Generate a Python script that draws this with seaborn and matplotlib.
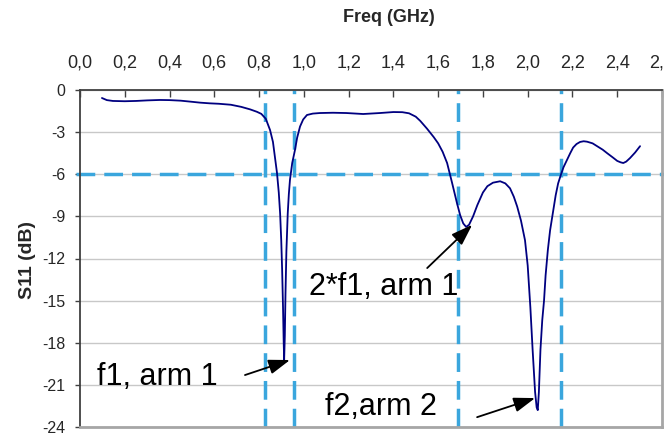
import matplotlib
matplotlib.use("Agg")
import matplotlib.pyplot as plt
import seaborn as sns

# ---- data ----
freq = [0.098, 0.12, 0.147, 0.2, 0.25, 0.3, 0.357, 0.4, 0.45, 0.5,
        0.536, 0.58, 0.62, 0.674, 0.72, 0.76, 0.79, 0.81, 0.83, 0.849,
        0.862, 0.871, 0.88, 0.888, 0.894, 0.899, 0.903, 0.907, 0.91, 0.912,
        0.915, 0.918, 0.922, 0.928, 0.933, 0.938, 0.948, 0.96, 0.97, 0.983,
        0.997, 1.014, 1.04, 1.072, 1.13, 1.19, 1.265, 1.34, 1.4, 1.44,
        1.47, 1.5, 1.52, 1.55, 1.58, 1.6, 1.62, 1.64, 1.662, 1.684,
        1.698, 1.712, 1.725, 1.738, 1.756, 1.775, 1.80, 1.82, 1.845, 1.877,
        1.9, 1.921, 1.938, 1.953, 1.97, 1.988, 2.0, 2.012, 2.022, 2.033,
        2.04, 2.045, 2.05, 2.057, 2.065, 2.073, 2.08, 2.09, 2.1, 2.115,
        2.125, 2.136, 2.149, 2.16, 2.175, 2.19, 2.203, 2.218, 2.234, 2.25,
        2.265, 2.29, 2.31, 2.335, 2.355, 2.38, 2.4, 2.415, 2.427, 2.44,
        2.457, 2.48, 2.502]
s11 = [-0.57, -0.72, -0.78, -0.80, -0.78, -0.74, -0.71, -0.72, -0.76, -0.84,
       -0.90, -0.95, -0.98, -1.05, -1.2, -1.38, -1.55, -1.7, -2.05, -2.85,
       -3.7, -4.8, -5.9, -7.3, -8.8, -10.7, -12.8, -15.5, -18.0, -19.2,
       -17.5, -14.5, -11.5, -8.8, -7.4, -6.4, -5.2, -4.3, -3.4, -2.6,
       -2.1, -1.78, -1.68, -1.64, -1.62, -1.64, -1.71, -1.64, -1.57, -1.58,
       -1.66, -1.9, -2.2, -2.75, -3.35, -3.8, -4.4, -5.2, -6.6, -8.05,
       -8.9, -9.5, -9.75, -9.6, -9.0, -8.2, -7.3, -6.85, -6.6, -6.5,
       -6.65, -7.0, -7.6, -8.3, -9.3, -10.7, -12.5, -15.5, -18.5, -21.5,
       -22.6, -22.8, -21.5, -18.5, -16.4, -15.0, -13.2, -11.4, -10.0, -8.5,
       -7.5, -6.65, -6.0, -5.5, -5.0, -4.5, -4.1, -3.85, -3.7, -3.65,
       -3.68, -3.8, -4.0, -4.25, -4.5, -4.8, -5.05, -5.15, -5.2, -5.1,
       -4.85, -4.45, -4.0]

xtick_vals = [0.0, 0.2, 0.4, 0.6, 0.8, 1.0, 1.2, 1.4, 1.6, 1.8, 2.0, 2.2, 2.4, 2.6]
xtick_labels = ["0,0", "0,2", "0,4", "0,6", "0,8", "1,0", "1,2", "1,4", "1,6",
                "1,8", "2,0", "2,2", "2,4", "2,6"]
ytick_vals = [0, -3, -6, -9, -12, -15, -18, -21, -24]
ytick_labels = ["0", "-3", "-6", "-9", "-12", "-15", "-18", "-21", "-24"]

vlines_x = [0.827, 0.956, 1.69, 2.15]
hline_y = -6

annotations = [
    # text, text position (x, y), arrow tail, arrow head
    ("f1, arm 1", (0.076, -21.0), (0.737, -20.3), (0.938, -19.23)),
    ("2*f1, arm 1", (1.023, -14.6), (1.551, -12.68), (1.752, -9.6)),
    ("f2,arm 2", (1.095, -23.15), (1.774, -23.3), (2.033, -21.94)),
]

# ---- style ----
sns.set_theme(style="white")
plt.rcParams["font.family"] = ["Liberation Sans", "DejaVu Sans"]
plt.rcParams["axes.unicode_minus"] = False

fig = plt.figure(figsize=(6.64, 4.33), dpi=100)
ax = fig.add_axes([80 / 664, 1 - 427 / 433, (662 - 80) / 664, (427 - 90) / 433])

dash_color = "#3aa6dd"
dash_lw = 2.5
dash_style = (0, (5.4, 2.6))

# grid
ax.set_axisbelow(True)
ax.yaxis.grid(True, color="#c8c8c8", lw=1.0)
ax.xaxis.grid(False)

# dashed reference lines
for xv in vlines_x:
    ax.plot([xv, xv], [-24, 0], color=dash_color, lw=dash_lw,
            linestyle=dash_style, zorder=2)
ax.plot([-0.02, 2.607], [hline_y, hline_y], color=dash_color, lw=dash_lw,
        linestyle=dash_style, zorder=2, clip_on=False)

# curve
sns.lineplot(x=freq, y=s11, ax=ax, color="#000080", lw=1.3, zorder=3,
             sort=False, estimator=None)

ax.set_xlim(0, 2.6)
ax.set_ylim(-24, 0)

ax.xaxis.tick_top()
ax.set_xticks(xtick_vals)
ax.set_xticklabels(xtick_labels, fontsize=13)
ax.set_yticks(ytick_vals)
ax.set_yticklabels(ytick_labels, fontsize=11.5)
ax.tick_params(axis="x", direction="in", length=5, width=1, color="#404040",
               pad=13, top=True, bottom=False, labeltop=True, labelbottom=False)
ax.tick_params(axis="y", direction="out", length=3.5, width=1, color="#404040",
               pad=7, left=True)

ax.xaxis.set_label_position("top")
ax.set_xlabel("Freq (GHz)", fontsize=13, fontweight="bold", va="center")
ax.xaxis.set_label_coords((389 - 80) / 582, (427 - 18) / 337)
ax.set_ylabel("S11 (dB)", fontsize=14, fontweight="bold", va="center")
ax.yaxis.set_label_coords((27 - 80) / 582, (427 - 260) / 337)

for side in ["top", "left"]:
    ax.spines[side].set_color("#404040")
    ax.spines[side].set_linewidth(1.3)
for side in ["right", "bottom"]:
    ax.spines[side].set_color("#a6a6a6")
    ax.spines[side].set_linewidth(2.0)

for text, tpos, tail, head in annotations:
    ax.text(tpos[0], tpos[1], text, fontsize=22, ha="left", va="baseline",
            color="black", zorder=4)
    ax.annotate("", xy=head, xytext=tail,
                arrowprops=dict(arrowstyle="-|>,head_length=1.3,head_width=0.45",
                                color="black", lw=1.3, shrinkA=0, shrinkB=0,
                                mutation_scale=10),
                zorder=5)

fig.savefig("out.png", dpi=100)
